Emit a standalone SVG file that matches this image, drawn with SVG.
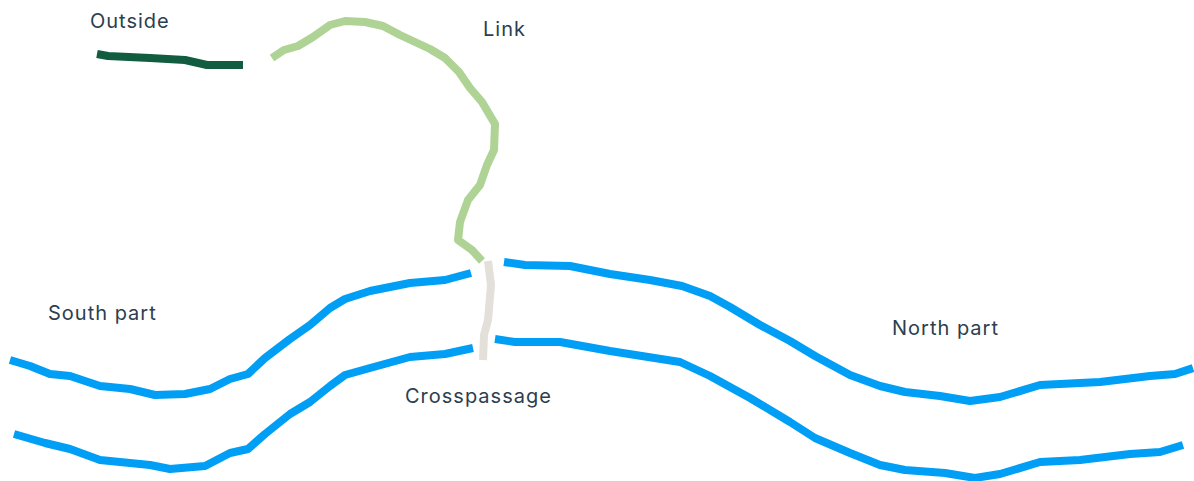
<svg xmlns="http://www.w3.org/2000/svg" width="1194" height="481" viewBox="0 0 1194 481">
<style>
.l{fill:none;stroke-width:8px;stroke-linejoin:round}
.b{stroke:#009ff5}
.t{font-family:"Inter","Liberation Sans",sans-serif;font-size:20px;fill:#2c3e4f;letter-spacing:1px}
</style>
<rect width="1194" height="481" fill="#fff"/>
<g id="connectors">
<path id="outside" class="l" style="stroke:#125c40" d="M97 54L108 56L150 58L185 60L207 65L243 65"/>
<path id="link" class="l" style="stroke:#aed394" d="M272 58L284 50L298 46L313 37L330 25L345 21L365 22L383 26L400 35L430 49L445 58L459 72L470 88L482 102L495 124L494 150L487 165L480 185L468 200L460 222L458 240L472 250L482 261"/>
<path id="cross" class="l" style="stroke:#e2e0d9" d="M488 261L491 285L488 320L484 335L483 360"/>
<path id="s1" class="l b" d="M10 360L30 366L50 374L70 376L100 386L130 389L155 395L185 394L210 389L230 379L248 374L265 358L290 339L310 325L330 308L345 299L370 291L410 283L445 280L471 273"/>
<path id="n1" class="l b" d="M504 262L525 265L570 266L610 274L650 280L682 286L710 296L730 307L760 325L790 341L815 356L850 375L880 386L905 392L940 396L970 401L1000 397L1040 385L1100 382L1150 376L1175 374L1193 368"/>
<path id="s2" class="l b" d="M14 434L45 443L70 449L100 460L150 465L170 469L205 466L230 453L248 449L265 434L290 414L310 402L330 386L345 375L370 368L410 357L445 354L473 348"/>
<path id="n2" class="l b" d="M495 339L515 342L560 342L610 351L680 362L710 376L750 398L790 422L815 438L850 453L880 465L905 470L945 473L975 478L1000 474L1040 462L1080 460L1130 454L1160 452L1183 445"/>
</g>
<g id="n-outside"><text class="t" x="90" y="28">Outside</text></g>
<g id="n-link"><text class="t" x="483" y="36">Link</text></g>
<g id="n-south"><text class="t" x="48" y="320">South part</text></g>
<g id="n-north"><text class="t" x="892" y="335">North part</text></g>
<g id="n-cross"><text class="t" x="405" y="403">Crosspassage</text></g>
</svg>
